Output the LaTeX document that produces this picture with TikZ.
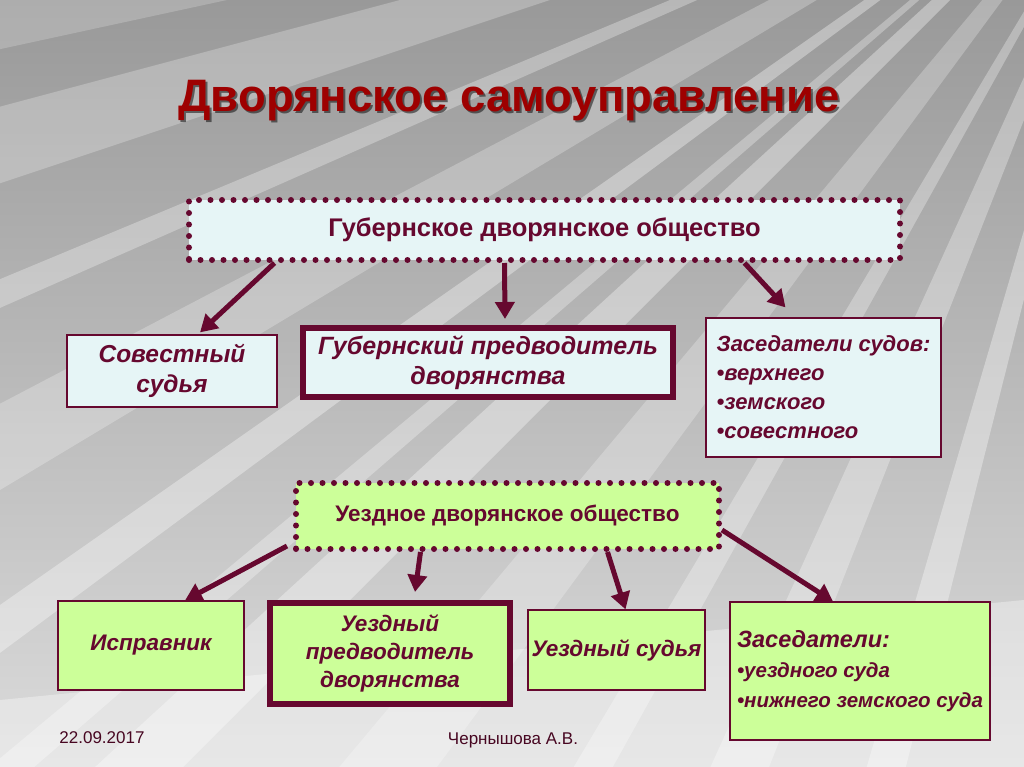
\documentclass[tikz,border=0pt]{standalone}
\usepackage{fontspec}
\setmainfont{Liberation Sans}
\usetikzlibrary{arrows.meta}
\definecolor{maroon}{HTML}{66082F}
\definecolor{titlered}{HTML}{9E0000}
\definecolor{iceblue}{HTML}{E6F5F6}
\definecolor{palegreen}{HTML}{CCFF99}

\begin{document}
\begin{tikzpicture}[x=1pt, y=-1pt,
  dotbox/.style={draw=maroon, line width=6pt, dash pattern=on 0pt off 11.5pt,
    line cap=round, text=maroon},
  thinbox/.style={draw=maroon, line width=1.2pt, text=maroon,
    font=\bfseries\itshape\fontsize{22.5}{28}\selectfont, align=center},
  thickbox/.style={thinbox, line width=6pt},
  arr/.style={draw=maroon, line width=5pt, -{Triangle[length=17pt,width=19pt]}}]
  \useasboundingbox (0,0) rectangle (1024,767);
  % background
  \begin{scope}
    \clip (0,0) rectangle (1024,767);
    \fill[top color=black!40, bottom color=black!14] (0,0) rectangle (1024,767);
    \foreach \a/\b/\o in {0/60/0.2, 120/200/0.25, 300/330/0.3, 430/520/0.25, 640/690/0.35,
        800/840/0.3, 900/1000/0.35}
      \fill[white, opacity=\o] (1150,-200) -- (-50,\a) -- (-50,\b) -- cycle;
    \foreach \a/\b/\o in {320/420/0.25, 560/600/0.3, 700/760/0.3, 860/900/0.35}
      \fill[white, opacity=\o] (1150,-200) -- (\a,790) -- (\b,790) -- cycle;
    \fill[white, opacity=0.35] (0,700) -- (1024,600) -- (1024,767) -- (0,767) -- cycle;
  \end{scope}
  % title
  \node[text=black, opacity=0.5, font=\bfseries\fontsize{45.5}{52}\selectfont] at (511,103) {Дворянское самоуправление};
  \node (title) [text=titlered, font=\bfseries\fontsize{45.5}{52}\selectfont] at (509,101) {Дворянское самоуправление};
  % upper level
  \node (gubo) [dotbox, fill=iceblue, minimum width=711pt, minimum height=60pt,
    font=\bfseries\fontsize{25.5}{30}\selectfont] at (544.5,230) {Губернское дворянское общество};
  \node (sovest) [thinbox, fill=iceblue, minimum width=210pt, minimum height=72pt,
    font=\bfseries\itshape\fontsize{24.5}{30}\selectfont] at (172,371) {Совестный\\судья};
  \node (gpred) [thickbox, fill=iceblue, minimum width=370pt, minimum height=69pt,
    font=\bfseries\itshape\fontsize{25}{30}\selectfont] at (488,362.5) {Губернский предводитель\\дворянства};
  \node (zasud) [thinbox, fill=iceblue, minimum width=235pt, minimum height=139pt, align=left,
    font=\bfseries\itshape\fontsize{22}{29}\selectfont] at (823.5,387.5)
    {Заседатели судов:\\•верхнего\\•земского\\•совестного};
  % lower level
  \node (uezd) [dotbox, fill=palegreen, minimum width=423pt, minimum height=66pt,
    font=\bfseries\fontsize{22.5}{27}\selectfont] at (507.5,516) {Уездное дворянское общество};
  \node (ispr) [thinbox, fill=palegreen, minimum width=186pt, minimum height=89pt] at (151,645.5) {Исправник};
  \node (upred) [thickbox, fill=palegreen, minimum width=240pt, minimum height=101pt] at (390,653.5) {Уездный\\предводитель\\дворянства};
  \node (usud) [thinbox, fill=palegreen, minimum width=177pt, minimum height=80pt] at (616.5,650) {Уездный судья};
  \node (zas) [thinbox, fill=palegreen, minimum width=260pt, minimum height=138pt, align=left,
    font=\bfseries\itshape\fontsize{20.5}{30}\selectfont] at (860,671)
    {{\fontsize{23.5}{30}\selectfont Заседатели:}\\•уездного суда\\•нижнего земского суда};
  % arrows
  \draw[arr] ([xshift=-270pt]gubo.south) -- ([xshift=28pt,yshift=2pt]sovest.north);
  \draw[arr] ([xshift=-40pt]gubo.south) -- ([xshift=17pt,yshift=6pt]gpred.north);
  \draw[arr] ([xshift=200pt]gubo.south) -- ([xshift=-38pt,yshift=10pt]zasud.north);
  \draw[arr] ([xshift=-6pt,yshift=6pt]uezd.south west) -- ([xshift=34pt]ispr.north);
  \draw[arr] ([xshift=-87pt]uezd.south) -- ([xshift=25pt,yshift=8pt]upred.north);
  \draw[arr] ([xshift=100pt]uezd.south) -- ([xshift=9pt]usud.north);
  \draw[arr] ([yshift=-14pt]uezd.east) -- ([xshift=-27pt]zas.north);
  % footer
  \node (date) [text=maroon!70!black, font=\fontsize{17}{20}\selectfont] at (102,738) {22.09.2017};
  \node (author) [text=maroon!70!black, font=\fontsize{17}{20}\selectfont] at (513,740) {Чернышова А.В.};
\end{tikzpicture}
\end{document}
